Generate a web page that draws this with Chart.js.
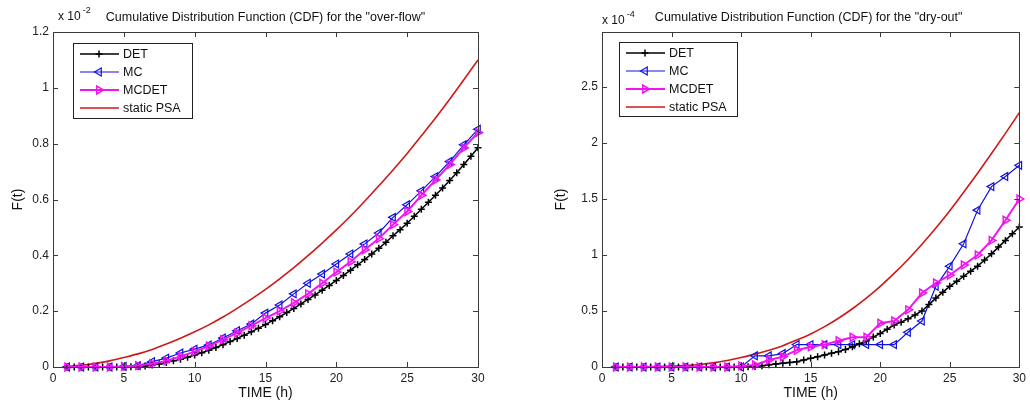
<!DOCTYPE html>
<html>
<head>
<meta charset="utf-8">
<script src="https://cdn.jsdelivr.net/npm/chart.js@4/dist/chart.umd.min.js"></script>
<style>
  html, body { margin: 0; padding: 0; background: #fff; }
  #wrap { position: relative; width: 1030px; height: 405px; }
  canvas { position: absolute; top: 0; }
</style>
</head>
<body>
<div id="wrap">
  <canvas id="overflow" width="515" height="405" style="left:0"></canvas>
  <canvas id="dryout" width="515" height="405" style="left:515px"></canvas>
</div>
<script>
// time grid (h): MC / MCDET / static PSA every hour, DET every half hour
const hours = Array.from({ length: 30 }, (_, i) => i + 1)
const detHours = Array.from({ length: 59 }, (_, i) => 1 + i * 0.5)

// "over-flow" (x 10^-2)
const overflowDET = [0, 0, 0, 0, 0, 0, 0, 0, 0, 0.001, 0.002, 0.004, 0.007, 0.011, 0.016, 0.022, 0.028, 0.035, 0.043, 0.051,
  0.06, 0.07, 0.08, 0.091, 0.102, 0.114, 0.126, 0.139, 0.152, 0.166, 0.18, 0.195, 0.21, 0.226, 0.242, 0.258, 0.275, 0.292, 0.31, 0.328,
  0.347, 0.366, 0.385, 0.405, 0.425, 0.447, 0.47, 0.492, 0.515, 0.54, 0.565, 0.59, 0.615, 0.641, 0.668, 0.696, 0.725, 0.755, 0.785]
const overflowMC = [0, 0, 0, 0, 0.002, 0.005, 0.019, 0.032, 0.05, 0.064, 0.079, 0.104, 0.13, 0.154, 0.193,
  0.222, 0.262, 0.3, 0.333, 0.369, 0.405, 0.441, 0.48, 0.536, 0.581, 0.631, 0.682, 0.736, 0.796, 0.852]
const overflowMCDET = [0, 0, 0, 0, 0.002, 0.005, 0.012, 0.022, 0.038, 0.055, 0.075, 0.098, 0.122, 0.148, 0.175,
  0.2, 0.23, 0.262, 0.3, 0.34, 0.377, 0.42, 0.46, 0.51, 0.557, 0.615, 0.67, 0.725, 0.785, 0.84]
const overflowPSA = [0.002, 0.006, 0.013, 0.022, 0.034, 0.047, 0.063, 0.082, 0.103, 0.126, 0.151, 0.179, 0.21, 0.243, 0.278,
  0.316, 0.356, 0.399, 0.444, 0.491, 0.541, 0.594, 0.649, 0.706, 0.765, 0.828, 0.892, 0.959, 1.029, 1.1]
const overflowTicks = { max: 1.2, step: 0.2, exponent: '-2' }

// "dry-out" (x 10^-4)
const dryoutDET = [0, 0, 0, 0, 0, 0, 0, 0, 0, 0, 0, 0, 0, 0, 0, 0, 0, 0, 0, 0.002,
  0.005, 0.012, 0.02, 0.026, 0.033, 0.04, 0.047, 0.062, 0.077, 0.092, 0.107, 0.122, 0.137, 0.157, 0.18, 0.207, 0.235, 0.267, 0.3, 0.337,
  0.375, 0.4, 0.43, 0.465, 0.5, 0.557, 0.615, 0.668, 0.72, 0.765, 0.81, 0.855, 0.9, 0.955, 1.01, 1.07, 1.13, 1.19, 1.25]
const dryoutMC = [0, 0, 0, 0, 0, 0, 0, 0, 0, 0, 0.1, 0.1, 0.12, 0.2, 0.2,
  0.2, 0.2, 0.2, 0.2, 0.2, 0.2, 0.31, 0.41, 0.72, 0.9, 1.1, 1.4, 1.61, 1.7, 1.8]
const dryoutMCDET = [0, 0, 0, 0, 0, 0, 0, 0, 0, 0.01, 0.018, 0.063, 0.092, 0.15, 0.18,
  0.2, 0.235, 0.265, 0.265, 0.39, 0.41, 0.51, 0.66, 0.75, 0.82, 0.91, 1.0, 1.13, 1.31, 1.5]
const dryoutPSA = [0, 0.001, 0.002, 0.004, 0.008, 0.014, 0.023, 0.037, 0.058, 0.085, 0.115, 0.15, 0.19, 0.24, 0.295,
  0.36, 0.435, 0.52, 0.615, 0.72, 0.835, 0.96, 1.095, 1.24, 1.395, 1.56, 1.73, 1.905, 2.085, 2.27]
const dryoutTicks = { max: 2.99, step: 0.5, exponent: '-4' }

const pts = (xs, ys) => xs.map((x, i) => ({ x: x, y: ys[i] }))
const FONT = '"Liberation Sans", Arial, Helvetica, sans-serif'

// MATLAB-like box, inward ticks, title, exponent and boxed legend
const matlabAxes = {
  id: 'matlab',
  afterDraw(chart, args, opts) {
    const ctx = chart.ctx
    const a = chart.chartArea
    const xs = chart.scales.x, ys = chart.scales.y
    ctx.save()
    ctx.strokeStyle = '#3a3a3a'
    ctx.lineWidth = 1
    ctx.strokeRect(Math.round(a.left) + 0.5, Math.round(a.top) + 0.5, Math.round(a.right - a.left), Math.round(a.bottom - a.top))
    ctx.beginPath()
    xs.ticks.forEach(t => {
      const px = Math.round(xs.getPixelForValue(t.value)) + 0.5
      ctx.moveTo(px, a.bottom); ctx.lineTo(px, a.bottom - 5)
      ctx.moveTo(px, a.top); ctx.lineTo(px, a.top + 5)
    })
    ys.ticks.forEach(t => {
      const py = Math.round(ys.getPixelForValue(t.value)) + 0.5
      ctx.moveTo(a.left, py); ctx.lineTo(a.left + 5, py)
      ctx.moveTo(a.right, py); ctx.lineTo(a.right - 5, py)
    })
    ctx.stroke()

    // title + exponent
    ctx.fillStyle = '#111'
    ctx.textBaseline = 'middle'
    ctx.font = '12.5px ' + FONT
    ctx.textAlign = 'center'
    ctx.fillText(opts.title, (a.left + a.right) / 2 + opts.titleShift, 18)
    ctx.textAlign = 'left'
    ctx.font = '12px ' + FONT
    ctx.fillText('x 10', a.left + opts.expX, opts.expY)
    const w = ctx.measureText('x 10').width
    ctx.font = '9px ' + FONT
    ctx.fillText(opts.exponent, a.left + opts.expX + w + 2, opts.expY - 6)

    // legend
    const L = opts.legend
    const bx = a.left + L.x, by = a.top + L.y
    ctx.fillStyle = '#fff'
    ctx.fillRect(bx, by, L.w, L.h)
    ctx.strokeStyle = '#222'
    ctx.strokeRect(Math.round(bx) + 0.5, Math.round(by) + 0.5, L.w, L.h)
    chart.data.datasets.forEach((ds, i) => {
      const y = by + 11 + i * 18
      ctx.strokeStyle = ds.borderColor
      ctx.lineWidth = ds.borderWidth
      ctx.beginPath()
      ctx.moveTo(bx + 7, y); ctx.lineTo(bx + 46, y)
      ctx.stroke()
      if (ds.pointRadius > 0) {
        ctx.strokeStyle = ds.pointBorderColor || ds.borderColor
        ctx.fillStyle = 'rgba(0,0,0,0)'
        ctx.lineWidth = ds.pointBorderWidth
        Chart.helpers.drawPoint(ctx, {
          pointStyle: ds.pointStyle, rotation: ds.pointRotation || 0,
          radius: ds.pointRadius, borderWidth: ds.pointBorderWidth
        }, bx + 26, y)
      }
      ctx.fillStyle = '#111'
      ctx.font = '12.5px ' + FONT
      ctx.textAlign = 'left'
      ctx.fillText(ds.label, bx + 50, y + 1)
    })
    ctx.restore()
  }
}

const makeChart = (id, cfg) => new Chart(document.getElementById(id), {
  type: 'line',
  data: {
    datasets: [
      {
        label: 'DET', data: pts(detHours, cfg.det), borderColor: '#000', borderWidth: 1.5,
        pointStyle: 'cross', pointRadius: 3.5, pointBorderWidth: 1.5, pointBorderColor: '#000', order: 1
      },
      {
        label: 'MC', data: pts(hours, cfg.mc), borderColor: '#1010e0', borderWidth: 1.2,
        pointStyle: 'triangle', pointRotation: -90, pointRadius: 4.5, pointBorderWidth: 1.2,
        pointBorderColor: '#1010e0', pointBackgroundColor: 'rgba(0,0,0,0)', order: 2
      },
      {
        label: 'MCDET', data: pts(hours, cfg.mcdet), borderColor: '#f015f0', borderWidth: 2,
        pointStyle: 'triangle', pointRotation: 90, pointRadius: 4.5, pointBorderWidth: 1.5,
        pointBorderColor: '#f015f0', pointBackgroundColor: 'rgba(0,0,0,0)', order: 0
      },
      {
        label: 'static PSA', data: pts(hours, cfg.psa), borderColor: '#d01818', borderWidth: 1.6,
        pointRadius: 0, cubicInterpolationMode: 'monotone', order: 3
      }
    ]
  },
  options: {
    responsive: false,
    animation: false,
    devicePixelRatio: 1,
    clip: false,
    layout: { padding: cfg.padding },
    plugins: {
      legend: { display: false },
      tooltip: { enabled: false },
      matlab: cfg.deco
    },
    scales: {
      x: {
        type: 'linear', min: 0, max: 30,
        ticks: { stepSize: 5, padding: 4, color: '#222', font: { family: FONT, size: 12 } },
        grid: { display: false, drawTicks: false },
        border: { display: false },
        title: { display: true, text: 'TIME (h)', color: '#111', font: { family: FONT, size: 14 }, padding: { top: 0, bottom: 3 } },
        afterFit: s => { s.height = 38 }
      },
      y: {
        min: 0, max: cfg.ticks.max,
        ticks: {
          stepSize: cfg.ticks.step, includeBounds: false, padding: 4, color: '#222', font: { family: FONT, size: 12 },
          callback: v => String(+v.toFixed(2))
        },
        grid: { display: false, drawTicks: false },
        border: { display: false },
        title: { display: true, text: 'F(t)', color: '#111', font: { family: FONT, size: 14 }, padding: { top: cfg.yTitlePad, bottom: 0 } },
        afterFit: s => { s.width = cfg.yWidth }
      }
    }
  },
  plugins: [matlabAxes]
})

makeChart('overflow', {
  det: overflowDET, mc: overflowMC, mcdet: overflowMCDET, psa: overflowPSA, ticks: overflowTicks,
  padding: { left: 0, top: 32, right: 37, bottom: 0 }, yWidth: 53, yTitlePad: 10,
  deco: {
    title: 'Cumulative Distribution Function (CDF) for the "over-flow"', titleShift: 0,
    exponent: overflowTicks.exponent, expX: 5, expY: 17,
    legend: { x: 20, y: 11, w: 119, h: 75 }
  }
})

makeChart('dryout', {
  det: dryoutDET, mc: dryoutMC, mcdet: dryoutMCDET, psa: dryoutPSA, ticks: dryoutTicks,
  padding: { left: 35, top: 32, right: 4, bottom: 0 }, yWidth: 52, yTitlePad: 3,
  deco: {
    title: 'Cumulative Distribution Function (CDF) for the "dry-out"', titleShift: -2,
    exponent: dryoutTicks.exponent, expX: 0, expY: 21,
    legend: { x: 17, y: 10, w: 118, h: 74 }
  }
})
</script>
</body>
</html>
